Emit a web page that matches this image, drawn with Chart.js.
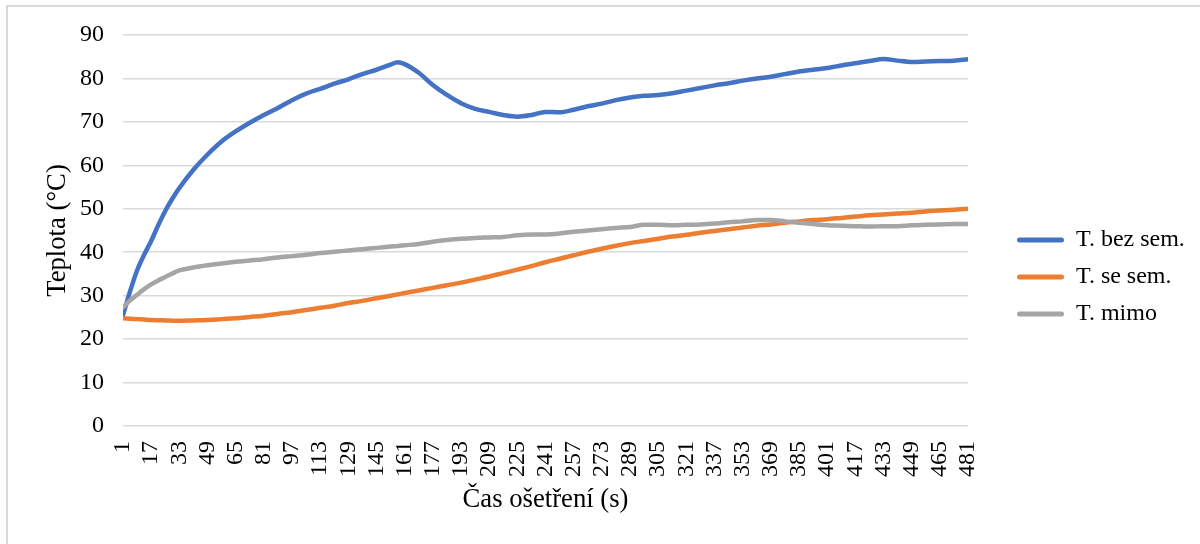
<!DOCTYPE html>
<html>
<head>
<meta charset="utf-8">
<script src="https://cdn.jsdelivr.net/npm/chart.js@4/dist/chart.umd.min.js"></script>
<style>
  html, body { margin: 0; padding: 0; background: #ffffff; }
  #wrap { position: relative; width: 1200px; height: 544px; overflow: hidden; }
  #frame { position: absolute; left: 6px; top: 5px; width: 1300px; height: 700px;
           border-left: 2px solid #d9d9d9; border-top: 2px solid #d9d9d9; box-sizing: border-box; }
  #chart { position: absolute; left: 0; top: 0; }
</style>
</head>
<body>
<div id="wrap">
  <div id="frame"></div>
  <canvas id="chart" width="1200" height="544"></canvas>
</div>
<script>
// Time of treatment in seconds (every 8 s, denser at the start and around the peak)
const seconds = [1, 5, 9, 13, 17, 21, 25, 29, 33, 41, 49, 57, 65, 73, 81, 89, 97, 105, 113, 121, 129, 137, 145, 153, 157,
  161, 169, 177, 185, 193, 201, 209, 217, 225, 233, 241, 249, 257, 265, 273, 281, 289, 297, 305, 313,
  321, 329, 337, 345, 353, 361, 369, 377, 385, 393, 401, 409, 417, 425, 433, 441, 449, 457, 465, 473, 481];

// Temperature without seeds (°C)
const tBezSem = [25.5, 31.0, 35.8, 39.4, 42.6, 46.2, 49.5, 52.3, 54.8, 59.0, 62.5, 65.5, 67.8, 69.8, 71.6, 73.2, 75.0, 76.5, 77.6, 78.8, 79.8, 81.0, 82.0, 83.2, 83.7,
  83.3, 81.3, 78.5, 76.2, 74.3, 73.0, 72.3, 71.6, 71.2, 71.6, 72.3, 72.2, 72.8, 73.6, 74.2, 75.0, 75.6, 76.0, 76.2, 76.6,
  77.2, 77.8, 78.4, 78.9, 79.5, 80.0, 80.4, 81.0, 81.6, 82.0, 82.4, 83.0, 83.5, 84.0, 84.5, 84.1, 83.8, 83.9, 84.0, 84.1, 84.4];

// Temperature with seeds (°C)
const tSeSem = [24.8, 24.7, 24.6, 24.5, 24.4, 24.35, 24.3, 24.25, 24.2, 24.3, 24.4, 24.6, 24.8, 25.1, 25.4, 25.8, 26.2, 26.7, 27.2, 27.7, 28.3, 28.8, 29.4, 30.0, 30.3,
  30.6, 31.2, 31.8, 32.4, 33.0, 33.7, 34.4, 35.2, 36.0, 36.8, 37.7, 38.5, 39.3, 40.1, 40.8, 41.5, 42.1, 42.6, 43.1, 43.6,
  44.0, 44.5, 44.9, 45.3, 45.7, 46.1, 46.4, 46.8, 47.1, 47.4, 47.6, 47.9, 48.2, 48.5, 48.7, 48.9, 49.1, 49.4, 49.6, 49.8, 50.0];

// Temperature outside (°C)
const tMimo = [27.3, 28.9, 30.2, 31.5, 32.6, 33.5, 34.3, 35.1, 35.8, 36.5, 37.0, 37.4, 37.8, 38.1, 38.4, 38.8, 39.1, 39.4, 39.8, 40.1, 40.4, 40.7, 41.0, 41.3, 41.45,
  41.6, 41.9, 42.4, 42.8, 43.1, 43.3, 43.4, 43.5, 43.9, 44.1, 44.1, 44.3, 44.7, 45.0, 45.3, 45.6, 45.8, 46.3, 46.3, 46.2,
  46.3, 46.4, 46.6, 46.9, 47.1, 47.4, 47.4, 47.1, 46.8, 46.5, 46.2, 46.1, 46.0, 45.9, 46.0, 46.0, 46.2, 46.3, 46.4, 46.5, 46.5];

// Labelled positions on the time axis
const tickSeconds = [1, 17, 33, 49, 65, 81, 97, 113, 129, 145, 161, 177, 193, 209, 225, 241, 257, 273, 289, 305,
  321, 337, 353, 369, 385, 401, 417, 433, 449, 465, 481];

const seriesNames = ['T. bez sem.', 'T. se sem.', 'T. mimo'];
const seriesColors = ['#4472C4', '#ED7D31', '#A5A5A5'];
const seriesValues = [tBezSem, tSeSem, tMimo];

const FONT = '"Liberation Serif", "Times New Roman", serif';
const legendFontSize = 24;
const legendBox = 47;
const legendPad = 13;

// legend width is known up front so the plot area ends where intended
const mctx = document.createElement('canvas').getContext('2d');
mctx.font = legendFontSize + 'px ' + FONT;
const maxText = Math.max(...seriesNames.map(n => mctx.measureText(n).width));
const legendWidth = legendPad + legendBox + legendFontSize / 2 + maxText + 10;
const plotRight = 968, gapRight = 36;
const padRight = Math.max(0, 1200 - plotRight - gapRight - legendWidth);

const datasets = seriesNames.map((name, i) => ({
  label: name,
  data: seconds.map((s, k) => ({ x: s, y: seriesValues[i][k] })),
  borderColor: seriesColors[i],
  backgroundColor: seriesColors[i],
  borderWidth: 4.5,
  borderCapStyle: 'round',
  borderJoinStyle: 'round',
  pointRadius: 0,
  cubicInterpolationMode: 'monotone',
  fill: false,
  order: seriesNames.length - i
}));

new Chart(document.getElementById('chart'), {
  type: 'line',
  data: { datasets },
  options: {
    responsive: false,
    animation: false,
    events: [],
    layout: { padding: { left: 0, top: 10, right: padRight, bottom: 0 } },
    plugins: {
      tooltip: { enabled: false },
      legend: {
        position: 'right',
        align: 'center',
        labels: {
          font: { family: FONT, size: legendFontSize },
          color: '#000000',
          boxWidth: legendBox,
          boxHeight: 5,
          padding: legendPad,
          generateLabels: () => seriesNames.map((name, i) => ({
            text: name,
            fillStyle: seriesColors[i],
            strokeStyle: seriesColors[i],
            lineWidth: 0,
            borderRadius: 2.5,
            datasetIndex: i,
            hidden: false
          }))
        }
      }
    },
    scales: {
      x: {
        type: 'linear',
        position: 'bottom',
        min: 1,
        max: 481,
        afterBuildTicks: (scale) => { scale.ticks = tickSeconds.map(v => ({ value: v })); },
        afterFit: (scale) => { scale.height = 118; },
        grid: { display: false, drawTicks: false },
        border: { display: false },
        ticks: {
          autoSkip: false,
          minRotation: 90,
          maxRotation: 90,
          padding: 15,
          color: '#000000',
          font: { family: FONT, size: 24 },
          callback: (v) => String(v)
        },
        title: {
          display: true,
          text: 'Čas ošetření (s)',
          color: '#000000',
          font: { family: FONT, size: 26.7, lineHeight: 1 },
          padding: { top: 0, bottom: 31 }
        }
      },
      xTop: {
        type: 'linear',
        position: 'top',
        display: true,
        grid: { display: false, drawTicks: false },
        border: { display: false },
        ticks: { display: false },
        afterFit: (scale) => { scale.height = 25; }
      },
      y: {
        type: 'linear',
        position: 'left',
        min: 0,
        max: 90,
        afterFit: (scale) => { scale.width = 123; },
        grid: { color: '#D9D9D9', lineWidth: 1.5, drawTicks: false },
        border: { display: false },
        ticks: {
          stepSize: 10,
          padding: 19,
          color: '#000000',
          font: { family: FONT, size: 24 }
        },
        title: {
          display: true,
          text: 'Teplota (°C)',
          color: '#000000',
          font: { family: FONT, size: 26.7, lineHeight: 1 },
          padding: { top: 45, bottom: 0 }
        }
      },
      yPad: {
        type: 'linear',
        position: 'right',
        display: true,
        grid: { display: false, drawTicks: false },
        border: { display: false },
        ticks: { display: false },
        afterFit: (scale) => { scale.width = gapRight; }
      }
    }
  }
});
</script>
</body>
</html>
